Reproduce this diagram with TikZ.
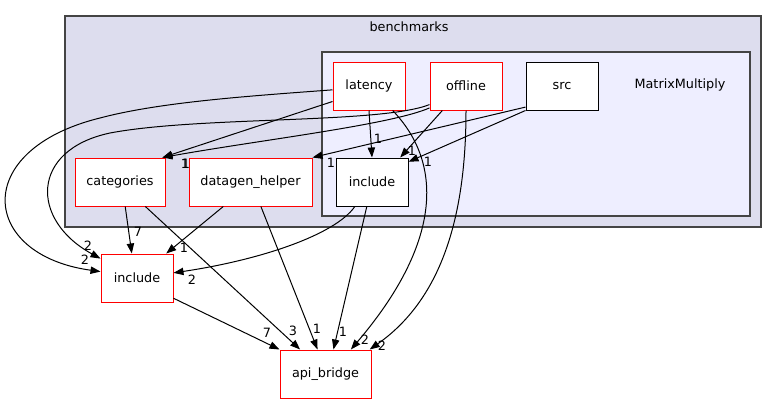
\documentclass[tikz,border=0pt]{standalone}
\usepackage{fontspec}
\setmainfont{DejaVu Sans}
\usetikzlibrary{arrows.meta}
\definecolor{ClusterOuter}{HTML}{DDDDEE}
\definecolor{ClusterInner}{HTML}{EEEEFF}
\definecolor{ClusterLine}{HTML}{444444}
\definecolor{DirRed}{HTML}{FF0000}

\begin{document}
\begin{tikzpicture}[x=0.75pt,y=-0.75pt, every node/.style={font=\fontsize{9.6}{11}\selectfont},
  dirbox/.style={draw=DirRed, fill=white, line width=0.75pt, minimum height=36pt, minimum width=54pt, inner sep=0pt},
  leafbox/.style={dirbox, draw=black},
  dep/.style={-{Triangle[length=7.5pt,width=5.5pt]}, line width=0.75pt},
  count/.style={inner sep=0pt}]
  \useasboundingbox (0,0) rectangle (777,404);
  \draw[fill=ClusterOuter, draw=ClusterLine, line width=1pt] (65,16) rectangle (761,227);
  \node (benchlabel) at (409,27) {benchmarks};
  \draw[fill=ClusterInner, draw=ClusterLine, line width=1pt] (322,52) rectangle (750,216);
  \node (matmullabel) at (680,85) {MatrixMultiply};
  \node[dirbox] (latency) at (369,86) {latency};
  \node[dirbox] (offline) at (466,86) {offline};
  \node[leafbox] (src) at (562,86) {src};
  \node[leafbox] (include1) at (372,182) {include};
  \node[dirbox, minimum width=67.5pt] (categories) at (120,182) {categories};
  \node[dirbox, minimum width=92.25pt] (datagen) at (250.5,182) {datagen\_helper};
  \node[dirbox] (include2) at (137,278) {include};
  \node[dirbox, minimum width=68.25pt] (apibridge) at (325.5,374) {api\_bridge};
  \draw[dep] (latency.203) -- (categories.30);
  \draw[dep] (offline.211) .. controls (390,125) and (260,140) .. (categories.30);
  \draw[dep] (offline.207) .. controls (380,124) and (200,116) .. (110,133) .. controls (30,150) and (30,220) .. (include2.152);
  \draw[dep] (latency.186) .. controls (250,96) and (160,102) .. (100,118) .. controls (-30,150) and (-20,255) .. (include2.170);
  \draw[dep] (src.210) -- (datagen.north east);
  \draw[dep] (src.south west) -- (include1.29);
  \draw[dep] (offline.226) -- (include1.41);
  \draw[dep] (latency.south) -- (include1.north);
  \draw[dep] (latency.314) .. controls (445,165) and (440,245) .. (apibridge.44);
  \draw[dep] (offline.south) .. controls (466,220) and (440,300) .. (apibridge.29);
  \draw[dep] (categories.282) -- (include2.102);
  \draw[dep] (categories.316) -- (apibridge.136);
  \draw[dep] (datagen.222) -- (include2.40);
  \draw[dep] (datagen.293) -- (apibridge.108);
  \draw[dep] (include1.235) .. controls (335,235) and (260,260) .. (include2.8);
  \draw[dep] (include1.258) -- (apibridge.72);
  \draw[dep] (include2.331) -- (apibridge.north west);
  \foreach \name/\x/\y/\txt in {latcat/185/164/1, offcat/186/164/1, srcdat/331/163/1,
      latinc/378/139/1, offinc/412/151/1, srcinc/428/162/1, catinc/138/232/7,
      datinc/184/248/1, incinc/192/280/2, offinctwo/88/246/2, latinctwo/85/260/2,
      incapi/267/333/7, catapi/293/331/3, datapi/317/329/1, incoapi/343/332/1,
      latapi/365/340/2, offapi/382/346/2}
    \node[count] (\name) at (\x,\y) {\txt};
\end{tikzpicture}
\end{document}
